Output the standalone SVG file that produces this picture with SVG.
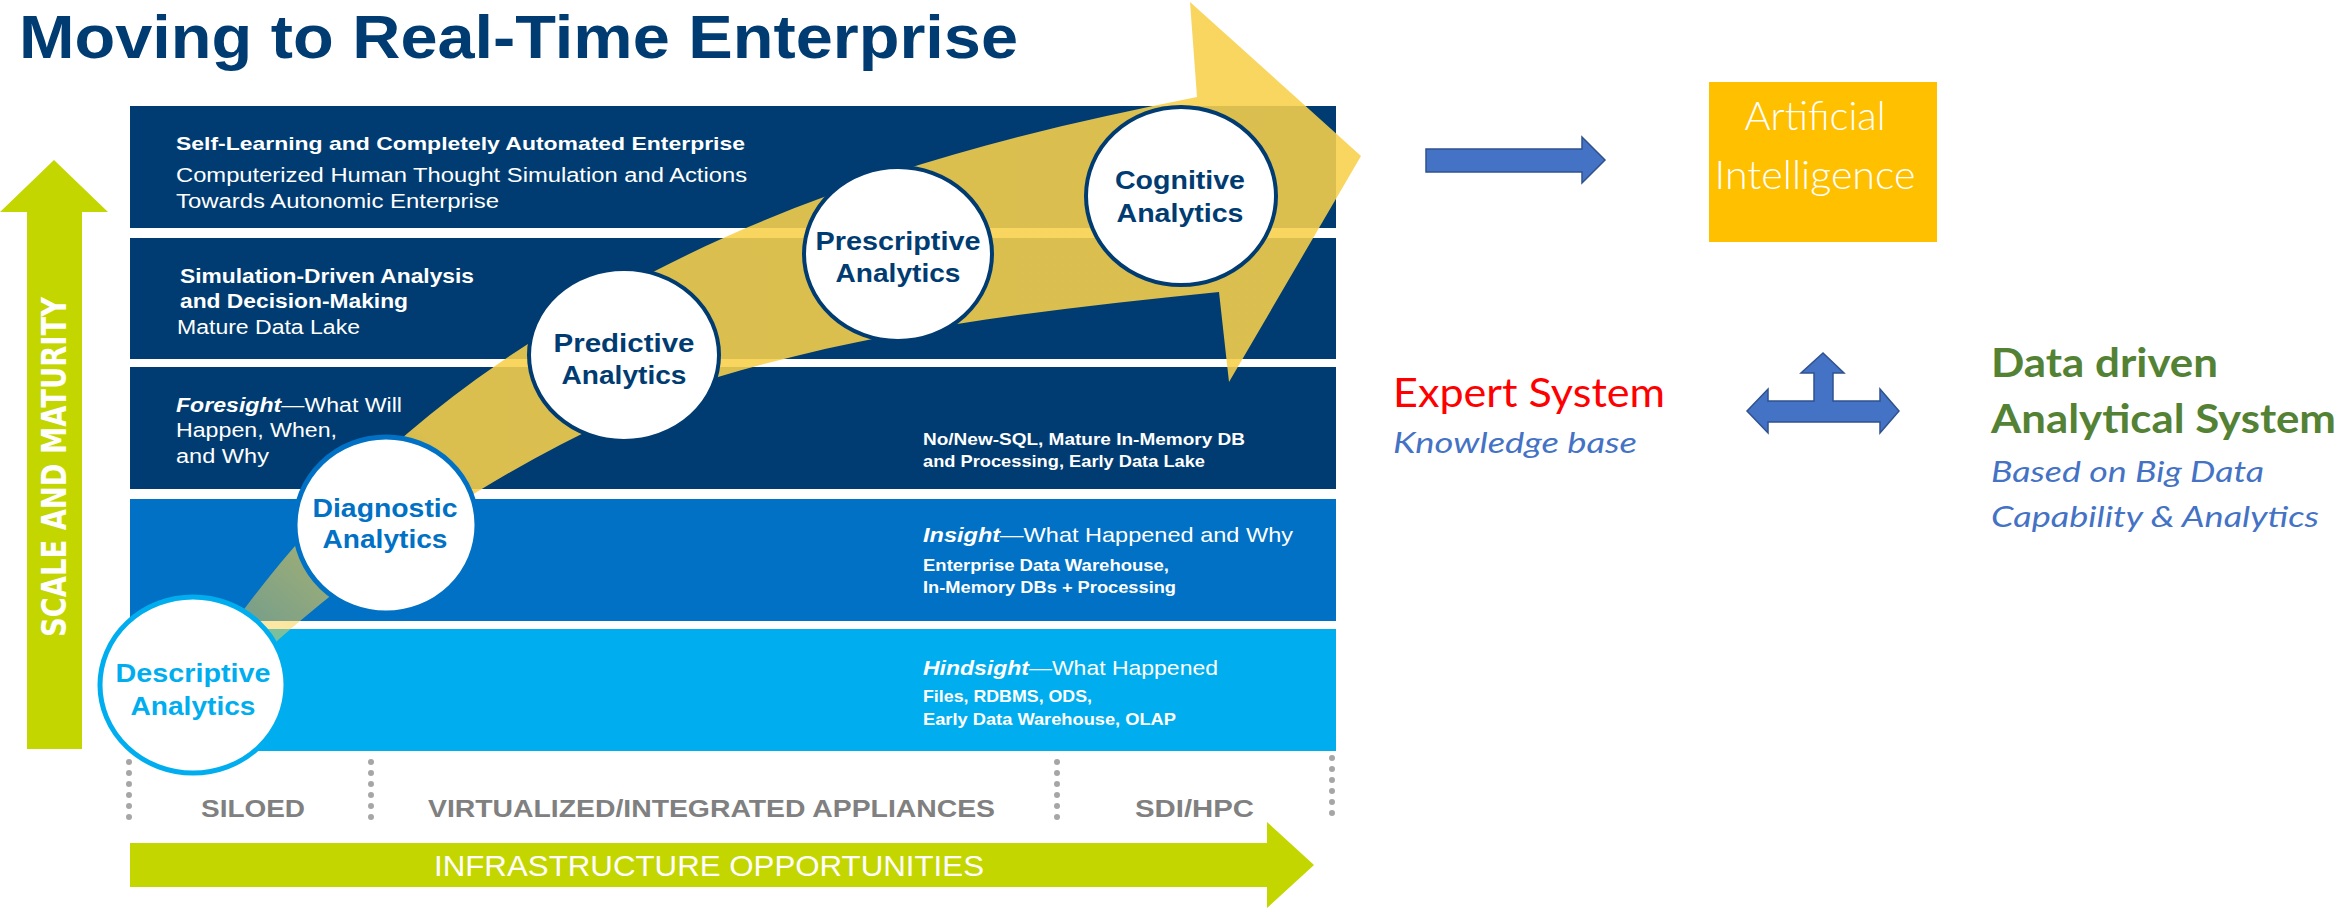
<svg xmlns="http://www.w3.org/2000/svg" width="2338" height="908" viewBox="0 0 2338 908">
<defs>
<style>
.band-b{font-family:"Liberation Sans",Arial,sans-serif;font-weight:bold;fill:#fff}
.band-r{font-family:"Liberation Sans",Arial,sans-serif;fill:#fff}
.circ{font-family:"Liberation Sans",Arial,sans-serif;font-weight:bold;font-size:26px;text-anchor:middle}
.infra{font-family:"Liberation Sans",Arial,sans-serif;font-weight:bold;font-size:24px;fill:#808080}
.dots{stroke:#A6A6A6;stroke-width:6;stroke-linecap:round;stroke-dasharray:0 11;fill:none}
.cal{font-family:Lato,"Open Sans",sans-serif}
.blue-arrow{fill:#4472C4;stroke:#2F528F;stroke-width:1.5}
</style>
<linearGradient id="yg" gradientUnits="userSpaceOnUse" x1="250" y1="650" x2="430" y2="440">
<stop offset="0" stop-color="#F8D04A" stop-opacity="0.45"/>
<stop offset="1" stop-color="#F8D04A" stop-opacity="0.88"/>
</linearGradient>
</defs>
<rect width="2338" height="908" fill="#fff"/>

<text x="19" y="58" font-family="Liberation Sans,Arial,sans-serif" font-weight="bold" font-size="61" fill="#003C71" textLength="999" lengthAdjust="spacingAndGlyphs">Moving to Real-Time Enterprise</text>

<g id="scale-axis">
<path d="M27,749 L27,212 L0,212 L54,160 L108,212 L82,212 L82,749 Z" fill="#C4D600"/>
<text transform="translate(66,637) rotate(-90)" x="0" y="0" font-family="DejaVu Sans,Verdana,sans-serif" font-weight="bold" font-size="33" fill="#fff" textLength="340" lengthAdjust="spacingAndGlyphs">SCALE AND MATURITY</text>
</g>

<g id="infra-axis">
<path d="M130,843 L1267,843 L1267,822 L1314,865 L1267,908 L1267,887 L130,887 Z" fill="#C4D600"/>
<text x="434" y="876" font-family="Liberation Sans,Arial,sans-serif" font-size="29" fill="#fff" textLength="550" lengthAdjust="spacingAndGlyphs">INFRASTRUCTURE OPPORTUNITIES</text>
<line class="dots" x1="129" y1="762" x2="129" y2="820"/>
<line class="dots" x1="371" y1="762" x2="371" y2="820"/>
<line class="dots" x1="1057" y1="762" x2="1057" y2="820"/>
<line class="dots" x1="1332" y1="758" x2="1332" y2="816"/>
<text class="infra" x="201" y="817" textLength="104" lengthAdjust="spacingAndGlyphs">SILOED</text>
<text class="infra" x="428" y="817" textLength="567" lengthAdjust="spacingAndGlyphs">VIRTUALIZED/INTEGRATED APPLIANCES</text>
<text class="infra" x="1135" y="817" textLength="119" lengthAdjust="spacingAndGlyphs">SDI/HPC</text>
</g>

<g id="band-1">
<rect x="130" y="106" width="1206" height="122" fill="#003C71"/>
<text class="band-b" x="176" y="150" font-size="19" textLength="569" lengthAdjust="spacingAndGlyphs">Self-Learning and Completely Automated Enterprise</text>
<text class="band-r" x="176" y="182" font-size="20" textLength="571" lengthAdjust="spacingAndGlyphs">Computerized Human Thought Simulation and Actions</text>
<text class="band-r" x="176" y="208" font-size="20" textLength="323" lengthAdjust="spacingAndGlyphs">Towards Autonomic Enterprise</text>
</g>
<g id="band-2">
<rect x="130" y="238" width="1206" height="121" fill="#003C71"/>
<text class="band-b" x="180" y="283" font-size="20" textLength="294" lengthAdjust="spacingAndGlyphs">Simulation-Driven Analysis</text>
<text class="band-b" x="180" y="308" font-size="20" textLength="228" lengthAdjust="spacingAndGlyphs">and Decision-Making</text>
<text class="band-r" x="177" y="334" font-size="20" textLength="183" lengthAdjust="spacingAndGlyphs">Mature Data Lake</text>
</g>
<g id="band-3">
<rect x="130" y="367" width="1206" height="122" fill="#003C71"/>
<text class="band-r" x="176" y="412" font-size="20" textLength="226" lengthAdjust="spacingAndGlyphs"><tspan font-weight="bold" font-style="italic">Foresight</tspan>—What Will</text>
<text class="band-r" x="176" y="437" font-size="20" textLength="161" lengthAdjust="spacingAndGlyphs">Happen, When,</text>
<text class="band-r" x="176" y="463" font-size="20" textLength="93" lengthAdjust="spacingAndGlyphs">and Why</text>
<text class="band-b" x="923" y="445" font-size="17" textLength="322" lengthAdjust="spacingAndGlyphs">No/New-SQL, Mature In-Memory DB</text>
<text class="band-b" x="923" y="467" font-size="17" textLength="282" lengthAdjust="spacingAndGlyphs">and Processing, Early Data Lake</text>
</g>
<g id="band-4">
<rect x="130" y="499" width="1206" height="122" fill="#0071C5"/>
<text class="band-r" x="923" y="542" font-size="21" textLength="370" lengthAdjust="spacingAndGlyphs"><tspan font-weight="bold" font-style="italic">Insight</tspan>—What Happened and Why</text>
<text class="band-b" x="923" y="571" font-size="17" textLength="246" lengthAdjust="spacingAndGlyphs">Enterprise Data Warehouse,</text>
<text class="band-b" x="923" y="593" font-size="17" textLength="253" lengthAdjust="spacingAndGlyphs">In-Memory DBs + Processing</text>
</g>
<g id="band-5">
<rect x="130" y="629" width="1206" height="122" fill="#00AEEF"/>
<text class="band-r" x="923" y="675" font-size="21" textLength="295" lengthAdjust="spacingAndGlyphs"><tspan font-weight="bold" font-style="italic">Hindsight</tspan>—What Happened</text>
<text class="band-b" x="923" y="702" font-size="17" textLength="169" lengthAdjust="spacingAndGlyphs">Files, RDBMS, ODS,</text>
<text class="band-b" x="923" y="725" font-size="17" textLength="253" lengthAdjust="spacingAndGlyphs">Early Data Warehouse, OLAP</text>
</g>

<g id="maturity-arrow">
<path d="M245,608 C340,482 436,403 531,342 C753,200 975,141 1197,97 L1190,2 L1361,156 L1229,382 L1219,292 C1052,309 885,327 718,377 C571,428 425,511 278,640 L235,690 L200,660 Z" fill="url(#yg)"/>
</g>

<g id="descriptive">
<ellipse cx="193" cy="685" rx="93" ry="88" fill="#fff" stroke="#00AEEF" stroke-width="5"/>
<text class="circ" x="193" y="682" fill="#00AEEF" textLength="155" lengthAdjust="spacingAndGlyphs">Descriptive</text>
<text class="circ" x="193" y="715" fill="#00AEEF" textLength="125" lengthAdjust="spacingAndGlyphs">Analytics</text>
</g>
<g id="diagnostic">
<ellipse cx="386" cy="525" rx="91" ry="88" fill="#fff" stroke="#0071C5" stroke-width="5"/>
<text class="circ" x="385" y="517" fill="#0071C5" textLength="145" lengthAdjust="spacingAndGlyphs">Diagnostic</text>
<text class="circ" x="385" y="548" fill="#0071C5" textLength="125" lengthAdjust="spacingAndGlyphs">Analytics</text>
</g>
<g id="predictive">
<ellipse cx="624" cy="355" rx="95" ry="86" fill="#fff" stroke="#003C71" stroke-width="4"/>
<text class="circ" x="624" y="352" fill="#003C71" textLength="141" lengthAdjust="spacingAndGlyphs">Predictive</text>
<text class="circ" x="624" y="384" fill="#003C71" textLength="125" lengthAdjust="spacingAndGlyphs">Analytics</text>
</g>
<g id="prescriptive">
<ellipse cx="898" cy="254" rx="94" ry="87" fill="#fff" stroke="#003C71" stroke-width="4"/>
<text class="circ" x="898" y="250" fill="#003C71" textLength="165" lengthAdjust="spacingAndGlyphs">Prescriptive</text>
<text class="circ" x="898" y="282" fill="#003C71" textLength="125" lengthAdjust="spacingAndGlyphs">Analytics</text>
</g>
<g id="cognitive">
<ellipse cx="1181" cy="196" rx="95" ry="89" fill="#fff" stroke="#003C71" stroke-width="4"/>
<text class="circ" x="1180" y="189" fill="#003C71" textLength="130" lengthAdjust="spacingAndGlyphs">Cognitive</text>
<text class="circ" x="1180" y="222" fill="#003C71" textLength="127" lengthAdjust="spacingAndGlyphs">Analytics</text>
</g>

<g id="ai">
<rect x="1709" y="82" width="228" height="160" fill="#FFC000"/>
<text class="cal" x="1815" y="130" font-size="40" font-weight="300" fill="#fff" text-anchor="middle" textLength="141" lengthAdjust="spacingAndGlyphs">Artificial</text>
<text class="cal" x="1815" y="189" font-size="40" font-weight="300" fill="#fff" text-anchor="middle" textLength="201" lengthAdjust="spacingAndGlyphs">Intelligence</text>
</g>
<g id="expert-system">
<text class="cal" x="1393" y="407" font-size="40" fill="#FF0000" textLength="272" lengthAdjust="spacingAndGlyphs">Expert System</text>
<text class="cal" x="1393" y="453" font-size="29" font-style="italic" fill="#4472C4" textLength="244" lengthAdjust="spacingAndGlyphs">Knowledge base</text>
</g>
<g id="data-driven">
<text class="cal" x="1991" y="377" font-size="40" font-weight="bold" fill="#548235" textLength="227" lengthAdjust="spacingAndGlyphs">Data driven</text>
<text class="cal" x="1991" y="433" font-size="40" font-weight="bold" fill="#548235" textLength="345" lengthAdjust="spacingAndGlyphs">Analytical System</text>
<text class="cal" x="1991" y="482" font-size="29" font-style="italic" fill="#4472C4" textLength="273" lengthAdjust="spacingAndGlyphs">Based on Big Data</text>
<text class="cal" x="1991" y="527" font-size="29" font-style="italic" fill="#4472C4" textLength="328" lengthAdjust="spacingAndGlyphs">Capability &amp; Analytics</text>
</g>

<g id="connectors">
<path class="blue-arrow" d="M1426,149 L1582,149 L1582,137 L1605,160 L1582,183 L1582,172 L1426,172 Z"/>
<path class="blue-arrow" d="M1747,411 L1768,389 L1768,401 L1814,401 L1814,373 L1801,373 L1823,353 L1844,373 L1833,373 L1833,401 L1880,401 L1880,389 L1899,411 L1880,433 L1880,422 L1768,422 L1768,433 Z"/>
</g>
</svg>
